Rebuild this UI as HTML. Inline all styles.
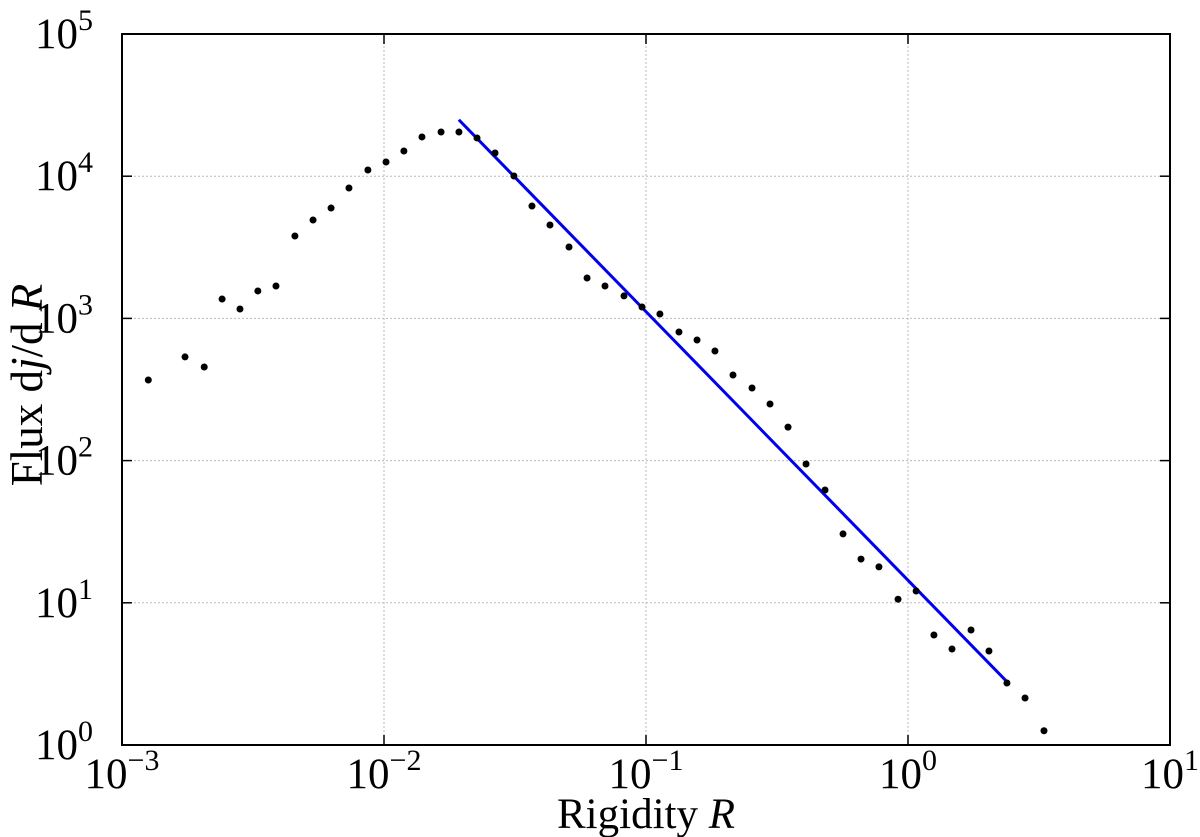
<!DOCTYPE html>
<html><head><meta charset="utf-8"><style>
html,body{margin:0;padding:0;background:#fff;}
svg{display:block;font-family:"Liberation Serif",serif;}
</style></head><body>
<svg id="chart" width="1200" height="837" viewBox="0 0 1200 837">
<rect width="1200" height="837" fill="#fff"/>
<g id="grid"></g>
<g id="ticks"></g>
<g id="fit"></g>
<g id="pts"></g>
<rect x="122" y="34" width="1048" height="711" fill="none" stroke="#000" stroke-width="2"/>
<text x="646" y="828" font-size="43" text-anchor="middle">Rigidity <tspan font-style="italic">R</tspan></text>
<text transform="translate(42,385) rotate(-90)" x="0" y="0" font-size="45" text-anchor="middle">Flux d<tspan font-style="italic">j</tspan>/d <tspan font-style="italic">R</tspan></text>
</svg>
<script>
const xValues=[0.00126,0.00174,0.00206,0.00241,0.00282,0.00330,0.00387,0.00457,0.00536,0.00628,0.00735,0.00868,0.01018,0.01191,0.01396,0.01651,0.01932,0.02265,0.02653,0.03133,0.03671,0.04300,0.05084,0.05957,0.06974,0.08241,0.09655,0.1130,0.1336,0.1566,0.1833,0.2148,0.2539,0.2974,0.3484,0.4082,0.4823,0.5650,0.6617,0.7746,0.9162,1.074,1.256,1.472,1.740,2.037,2.386,2.797,3.304];
const yValues=[369,536,455,1368,1164,1560,1690,3797,4917,5970,8260,11060,12590,15040,18880,20460,20460,18580,14560,10030,6166,4536,3178,1923,1690,1439,1203,1074,802,705,590,400,324,250,172,94.6,62.1,30.5,20.3,17.9,10.6,12.1,5.94,4.73,6.44,4.58,2.73,2.14,1.26];
const fitRange=[0.0193,2.386];
const fitAmplitude=[14.4];
const fitSlope=[-1.889];
const xTickExps=[-3,-2,-1,0,1];
const yTickExps=[0,1,2,3,4,5];
const NS="http://www.w3.org/2000/svg";
const L=122,R=1170,T=34,B=745;
function sx(v){return L+(Math.log10(v)+3)/4*(R-L);}
function sy(v){return B-Math.log10(v)/5*(B-T);}
function mk(tag,attrs,parent){const e=document.createElementNS(NS,tag);for(const k in attrs)e.setAttribute(k,attrs[k]);parent.appendChild(e);return e;}
const grid=document.getElementById('grid'),ticks=document.getElementById('ticks');
xTickExps.forEach(e=>{const x=sx(Math.pow(10,e));
 const g=mk('line',{x1:x,x2:x,y1:T,y2:B,stroke:'#bbb','stroke-width':1,'stroke-dasharray':'2,2'},grid);
 
 
 const t1=mk('line',{x1:x,x2:x,y1:B,y2:B-10,stroke:'#000','stroke-width':1.5},ticks);
 
 
 const t2=mk('line',{x1:x,x2:x,y1:T,y2:T+10,stroke:'#000','stroke-width':1.5},ticks);
 
 
 const tx=mk('text',{x:x,y:788,'font-size':43,'text-anchor':'middle'},ticks);
 tx.innerHTML='10<tspan dy="-18" font-size="30">'+(e<0?'\u2212'+(-e):e)+'</tspan>';
 
 
});
yTickExps.forEach(e=>{const y=sy(Math.pow(10,e));
 const g=mk('line',{x1:L,x2:R,y1:y,y2:y,stroke:'#bbb','stroke-width':1,'stroke-dasharray':'2,2'},grid);
 
 
 const t1=mk('line',{x1:L,x2:L+10,y1:y,y2:y,stroke:'#000','stroke-width':1.5},ticks);
 
 
 const t2=mk('line',{x1:R,x2:R-10,y1:y,y2:y,stroke:'#000','stroke-width':1.5},ticks);
 
 
 const tx=mk('text',{x:93,y:y+14,'font-size':43,'text-anchor':'end'},ticks);
 tx.innerHTML='10<tspan dy="-18" font-size="30">'+e+'</tspan>';
 
 
});
const f=(r)=>fitAmplitude[0]*Math.pow(r,fitSlope[0]);
const fl=mk('line',{x1:sx(fitRange[0]),y1:sy(f(fitRange[0])),x2:sx(fitRange[1]),y2:sy(f(fitRange[1])),stroke:'#0000ee','stroke-width':3},document.getElementById('fit'));


const pts=document.getElementById('pts');
xValues.forEach((v,i)=>{const c=mk('circle',{cx:sx(v),cy:sy(yValues[i]),r:3.5,fill:'#000'},pts);
 
 
});
</script>
</body></html>
